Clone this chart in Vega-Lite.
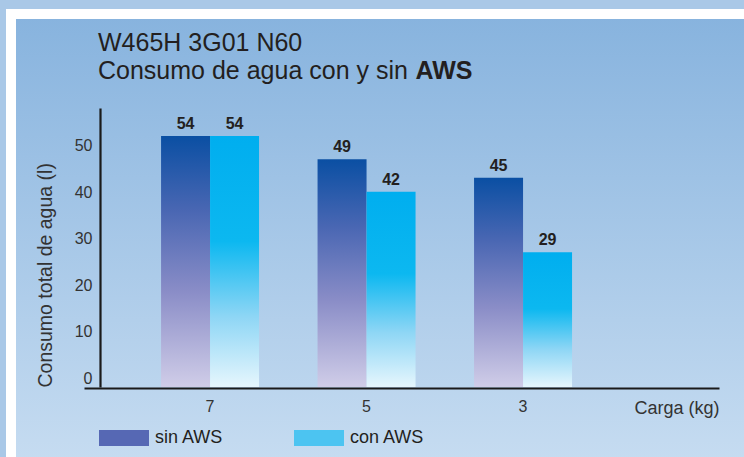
{
  "$schema": "https://vega.github.io/schema/vega-lite/v6.json",
  "width": 738,
  "height": 448,
  "autosize": {"type": "none"},
  "padding": {"left": 11, "top": 14, "right": -5, "bottom": -5},
  "background": "#a9c8e7",
  "config": {
    "font": "Liberation Sans",
    "view": {
      "fill": {"gradient": "linear", "x1": 0, "y1": 0, "x2": 0, "y2": 1, "stops": [{"offset": 0, "color": "#87b3de"}, {"offset": 1, "color": "#c6dcf1"}]},
      "stroke": "#ffffff",
      "strokeWidth": 10
    }
  },
  "title": {
    "text": ["W465H 3G01 N60", "Consumo de agua con y sin"],
    "subtitle": "\u200b\u00a0\u00a0\u00a0\u00a0\u00a0\u00a0\u00a0\u00a0\u00a0\u00a0\u00a0\u00a0\u00a0\u00a0\u00a0\u00a0\u00a0\u00a0\u00a0\u00a0\u00a0\u00a0\u00a0\u00a0\u00a0\u00a0\u00a0\u00a0\u00a0\u00a0\u00a0\u00a0\u00a0\u00a0\u00a0\u00a0\u00a0\u00a0\u00a0\u00a0\u00a0\u00a0\u00a0\u00a0\u00a0\u2009AWS",
    "anchor": "start",
    "frame": "group",
    "dx": 87,
    "offset": -70,
    "fontSize": 25,
    "fontWeight": "normal",
    "color": "#231f20",
    "lineHeight": 28,
    "subtitleFontSize": 25,
    "subtitleFontWeight": "bold",
    "subtitleColor": "#231f20",
    "subtitlePadding": -25
  },
  "data": {
    "values": [
      {"carga": "7", "serie": "sin AWS", "valor": 54},
      {"carga": "7", "serie": "con AWS", "valor": 54},
      {"carga": "5", "serie": "sin AWS", "valor": 49},
      {"carga": "5", "serie": "con AWS", "valor": 42},
      {"carga": "3", "serie": "sin AWS", "valor": 45},
      {"carga": "3", "serie": "con AWS", "valor": 29}
    ]
  },
  "encoding": {
    "x": {
      "field": "carga",
      "type": "nominal",
      "sort": ["7", "5", "3"],
      "scale": {"range": [73, 708], "paddingInner": 0.3738, "paddingOuter": 0.7157, "align": 0.344},
      "axis": {
        "orient": "bottom",
        "offset": -74,
        "ticks": false,
        "tickSize": 0,
        "domainColor": "#1a1a1a",
        "domainWidth": 2.2,
        "labelAngle": 0,
        "labelFontSize": 16,
        "labelColor": "#333333",
        "labelPadding": 10,
        "grid": false,
        "title": "Carga (kg)",
        "titleFontSize": 18,
        "titleFontWeight": "normal",
        "titleColor": "#333333",
        "titleAnchor": "end",
        "titleBaseline": "alphabetic",
        "titleY": 25
      }
    },
    "xOffset": {
      "field": "serie",
      "type": "nominal",
      "scale": {"domain": ["sin AWS", "con AWS"], "paddingInner": 0, "paddingOuter": 0}
    },
    "y": {
      "field": "valor",
      "type": "quantitative",
      "scale": {"domain": [0, 60], "range": [373, 94], "nice": false},
      "axis": {
        "orient": "left",
        "offset": -89,
        "values": [0, 10, 20, 30, 40, 50],
        "grid": false,
        "ticks": false,
        "tickSize": 0,
        "domainColor": "#1a1a1a",
        "domainWidth": 2.2,
        "labelFontSize": 16,
        "labelColor": "#333333",
        "labelPadding": 8,
        "labelOffset": -9,
        "title": "Consumo total de agua (l)",
        "titleFontSize": 19.5,
        "titleFontWeight": "normal",
        "titleColor": "#333333",
        "titleAnchor": "start",
        "titlePadding": 19
      }
    }
  },
  "layer": [
    {
      "mark": {"type": "bar"},
      "encoding": {
        "fill": {
          "field": "serie",
          "type": "nominal",
          "condition": [
            {"test": "datum.serie === 'sin AWS'", "value": {"gradient": "linear", "x1": 0, "y1": 0, "x2": 0, "y2": 1, "stops": [{"offset": 0, "color": "#0a4fa3"}, {"offset": 0.3, "color": "#4a67b3"}, {"offset": 0.62, "color": "#8a8dc7"}, {"offset": 1, "color": "#d0cde8"}]}},
            {"test": "datum.serie === 'con AWS'", "value": {"gradient": "linear", "x1": 0, "y1": 0, "x2": 0, "y2": 1, "stops": [{"offset": 0, "color": "#00aeef"}, {"offset": 0.42, "color": "#0cb8f0"}, {"offset": 0.72, "color": "#8ed6f5"}, {"offset": 1, "color": "#e6f6fd"}]}}
          ],
          "scale": {"domain": ["sin AWS", "con AWS"], "range": ["#5668b4", "#4cc4f1"]},
          "legend": {
            "orient": "none",
            "legendX": 88,
            "legendY": 399,
            "direction": "horizontal",
            "title": null,
            "padding": 0,
            "symbolType": "M-1,-0.32H1V0.32H-1Z",
            "symbolSize": 2500,
            "symbolStrokeWidth": 0,
            "labelFontSize": 18,
            "labelColor": "#231f20",
            "labelOffset": 6,
            "columnPadding": 70
          }
        }
      }
    },
    {
      "mark": {"type": "text", "baseline": "bottom", "dy": -4, "fontSize": 16, "fontWeight": "bold", "color": "#231f20"},
      "encoding": {
        "text": {"field": "valor", "type": "quantitative"}
      }
    }
  ]
}
